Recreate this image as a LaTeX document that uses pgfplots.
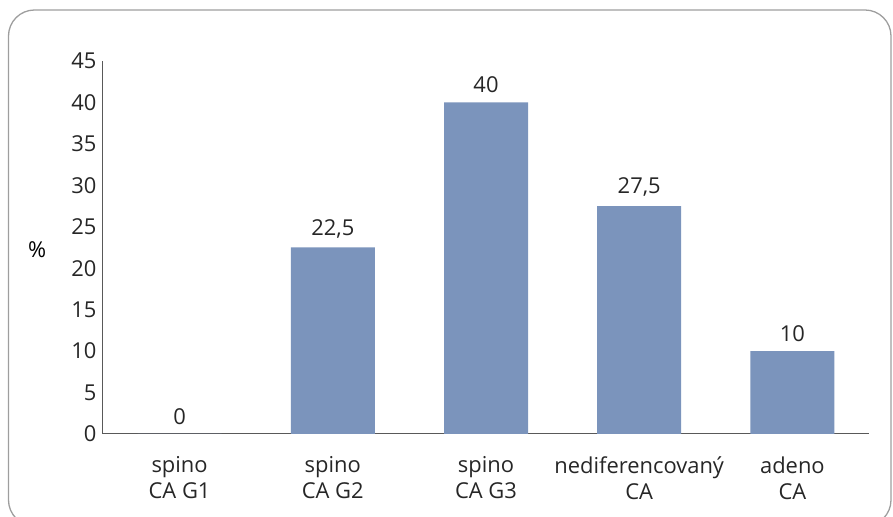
\documentclass[border=0pt]{standalone}
\usepackage{pgfplots}
\pgfplotsset{compat=1.18}
\usepackage{fontspec}
\setmainfont{Open Sans}
\definecolor{barblue}{RGB}{123,148,188}
\begin{document}
\begin{tikzpicture}[x=1bp,y=1bp]
\useasboundingbox (-103,-83) rectangle (790,434);
\draw[black!38, line width=1.3bp, rounded corners=26bp] (-94.5,-92) rectangle (788,424);
\begin{axis}[
  at={(0,0)}, anchor=south west,
  scale only axis, width=766bp, height=373bp,
  font=\fontsize{22}{26}\selectfont,
  xmin=-0.5, xmax=4.5, ymin=0, ymax=45,
  ytick={0,5,...,45},
  xtick={0,1,2,3,4},
  xticklabels={{spino\\CA G1},{spino\\CA G2},{spino\\CA G3},{nediferencovaný\\CA},{adeno\\CA}},
  xticklabel style={align=center, text=black!85, yshift=-19bp},
  yticklabel style={text=black!85, xshift=-3bp},
  /pgf/number format/assume math mode=true,
  axis x line*=bottom, axis y line*=left,
  axis line style={-, draw=black!65, line width=1bp},
  major tick length=0pt,
  ybar, bar width=84bp,
  ylabel={\%},
  every axis y label/.style={at={(axis description cs:-0.086,0.493)}, anchor=center},
  nodes near coords={\pgfmathprintnumber[use comma, assume math mode=true]{\pgfplotspointmeta}},
  every node near coord/.append style={text=black!85, yshift=6bp},
]
\addplot[fill=barblue, draw=none] coordinates {(0,0) (1,22.5) (2,40) (3,27.5) (4,10)};
\end{axis}
\end{tikzpicture}
\end{document}
